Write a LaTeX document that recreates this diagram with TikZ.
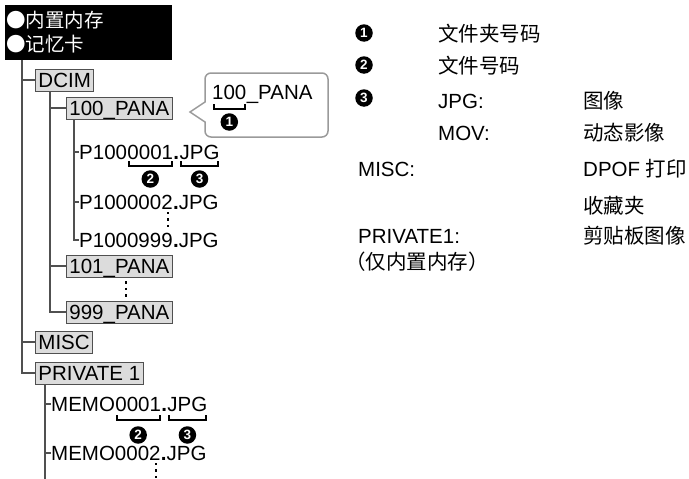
\documentclass[tikz,border=0pt]{standalone}
\usepackage{fontspec}
\setmainfont{Liberation Sans}
\newfontfamily\cjk{Noto Sans CJK SC}
\usetikzlibrary{calc}
\definecolor{boxfill}{HTML}{DCDCDC}
\definecolor{linegray}{HTML}{505050}
\definecolor{bubblegray}{HTML}{9A9A9A}
\begin{document}
\begin{tikzpicture}[x=1pt,y=-1pt,
 every node/.style={font=\fontsize{20.5}{22}\selectfont},
 tree/.style={draw=linegray, line width=1.4pt},
 folder/.style={draw=linegray, fill=boxfill, line width=0.9pt, inner xsep=3pt, inner ysep=0pt, minimum height=22pt, anchor=west, text height=14.5pt, text depth=0pt},
 part/.style={inner sep=0pt, anchor=base west},
 brk/.style={draw=black, line width=2pt},
 num/.style={circle, fill=black, text=white, inner sep=0pt, minimum size=17.5pt, font=\fontsize{13.5}{13.5}\selectfont\bfseries},
 leg/.style={anchor=west, inner sep=0pt, font=\fontsize{20.5}{22}\selectfont},
 dots/.style={draw=black, line width=2.4pt, dash pattern=on 2.4pt off 4pt},
 rootline/.style={anchor=west, inner sep=0pt, text=white, font=\fontsize{19.5}{20}\selectfont\cjk}
]
\useasboundingbox (0,0) rectangle (689,479);

% root
\node[fill=black, minimum width=167pt, minimum height=55pt, anchor=north west, inner sep=0pt] (root) at (5,5) {};
\node[rootline] (r1) at (6,20) {●内置内存};
\node[rootline] (r2) at (6,44) {●记忆卡};

% folders
\node[folder] (dcim) at (35,80) {DCIM};
\node[folder] (p100) at (66,108) {100\_PANA};
\node[folder] (p101) at (66,266) {101\_PANA};
\node[folder] (p999) at (66,312) {999\_PANA};
\node[folder] (misc) at (35,342) {MISC};
\node[folder] (priv) at (35,373) {PRIVATE 1};

% files under 100_PANA
\node[part] (f1a) at (79,159) {P100};
\node[part] (f1b) at (f1a.base east) {0001};
\node[part] (f1c) at (f1b.base east) {\textbf{.}};
\node[part] (f1d) at (f1c.base east) {JPG};
\node[part] (f2a) at (79,209) {P1000002};
\node[part] (f2b) at (f2a.base east) {\textbf{.}JPG};
\node[part] (f3a) at (79,247) {P1000999};
\node[part] (f3b) at (f3a.base east) {\textbf{.}JPG};

% files under PRIVATE 1
\node[part] (m1a) at (51,411) {MEMO};
\node[part] (m1b) at (m1a.base east) {0001};
\node[part] (m1c) at (m1b.base east) {\textbf{.}};
\node[part] (m1d) at (m1c.base east) {JPG};
\node[part] (m2a) at (51,460) {MEMO0002};
\node[part] (m2b) at (m2a.base east) {\textbf{.}JPG};

% tree lines
\coordinate (t0) at (22,60);
\draw[tree] (t0) |- (dcim.west);
\draw[tree] (t0) |- (misc.west);
\draw[tree] (t0) |- (priv.west);
\coordinate (d0) at (dcim.south -| 50,0);
\draw[tree] (d0) |- (p100.west);
\draw[tree] (d0) |- (p101.west);
\draw[tree] (d0) |- (p999.west);
\coordinate (e0) at (p100.south -| 74,0);
\draw[tree] (e0) |- ($(f1a.base west)+(0,-7)$) coordinate (f1j);
\draw[tree] (e0) |- ($(f2a.base west)+(0,-7)$) coordinate (f2j);
\draw[tree] (e0) |- ($(f3a.base west)+(0,-7)$) coordinate (f3j);
\coordinate (g0) at (priv.south -| 45,0);
\coordinate (gend) at (45,479);
\draw[tree] (g0) -- (gend);
\draw[tree] ($(m1a.base west)+(-6,-7)$) -- ($(m1a.base west)+(0,-7)$) coordinate (m1j);
\draw[tree] ($(m2a.base west)+(-6,-7)$) -- ($(m2a.base west)+(0,-7)$) coordinate (m2j);

% brackets and numbers
\draw[brk] ($(f1b.base west)+(1.5,2)$) -- ++(0,5) -| ($(f1b.base east)+(-1.5,2)$);
\draw[brk] ($(f1d.base west)+(1.5,2)$) -- ++(0,5) -| ($(f1d.base east)+(-1.5,2)$);
\node[num] (n2a) at ($(f1b.base)+(0,20)$) {2};
\node[num] (n3a) at ($(f1d.base)+(0,20)$) {3};
\draw[brk] ($(m1b.base west)+(1.5,4)$) -- ++(0,5) -| ($(m1b.base east)+(-1.5,4)$);
\draw[brk] ($(m1d.base west)+(1.5,4)$) -- ++(0,5) -| ($(m1d.base east)+(-1.5,4)$);
\node[num] (n2b) at ($(m1b.base)+(0,24)$) {2};
\node[num] (n3b) at ($(m1d.base)+(0,24)$) {3};

% dots
\draw[dots] ($(f2a.base east)+(-5,3)$) -- ($(f2a.base east)+(-5,19)$);
\draw[dots] (p101.south -| 126,0) ++(0,4) -- ++(0,17);
\draw[dots] ($(m2a.base east)+(-5,3)$) -- ($(m2a.base east)+(-5,21)$);

% callout
\coordinate (tip) at (190,112);
\draw[draw=bubblegray, line width=1.5pt, rounded corners=6pt]
  (205,102) -- (205,73) -- (328,73) -- (328,137) -- (205,137) [sharp corners] -- (205,122) -- (tip) -- cycle;
\node[part] (b1) at (212,99) {100};
\node[part] (b2) at (b1.base east) {\_PANA};
\draw[brk] ($(b1.base west)+(1.5,5)$) -- ++(0,5) -| ($(b1.base east)+(-1.5,5)$);
\node[num] (n1a) at ($(b1.base)+(0,23)$) {1};

% legend
\node[num] (l1) at (364,33) {1};
\node[num] (l2) at (364,65) {2};
\node[num] (l3) at (364,98) {3};
\node[leg] (l1t) at (438,34) {\cjk 文件夹号码};
\node[leg] (l2t) at (438,66) {\cjk 文件号码};
\node[leg] (l3t) at (438,101) {JPG:};
\node[leg] (l4t) at (438,133) {MOV:};
\node[leg] (l5t) at (358,169) {MISC:};
\node[leg] (l6t) at (358,236) {PRIVATE1:};
\node[leg] (l7t) at (345,262) {\cjk （仅内置内存）};
\node[leg] (l3d) at (583,101) {\cjk 图像};
\node[leg] (l4d) at (583,133) {\cjk 动态影像};
\node[leg] (l5d) at (583,169) {DPOF {\cjk 打印}};
\node[leg] (l5e) at (583,206) {\cjk 收藏夹};
\node[leg] (l6d) at (583,236) {\cjk 剪贴板图像};
\end{tikzpicture}
\end{document}
